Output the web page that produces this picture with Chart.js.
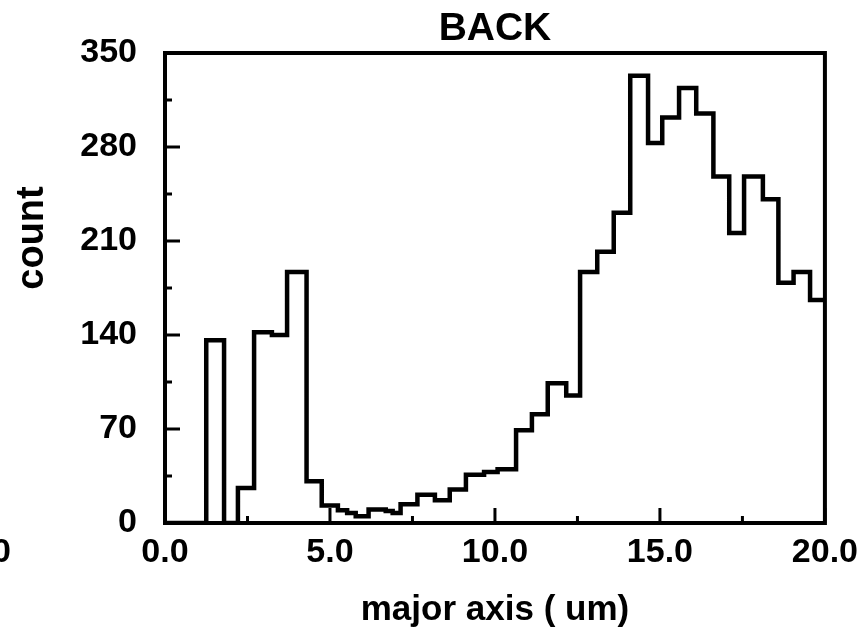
<!DOCTYPE html>
<html>
<head>
<meta charset="utf-8">
<script src="https://cdn.jsdelivr.net/npm/chart.js@4.4.1/dist/chart.umd.min.js"></script>
<style>
  html, body { margin: 0; padding: 0; background: #fff; }
  #wrap { width: 867px; height: 632px; }
</style>
</head>
<body>
<div id="wrap"><canvas id="c" width="867" height="632"></canvas></div>
<script>
// Bin start positions (um) and counts (step histogram, value held until next edge)
const binStarts = [0, 1.25, 1.79, 2.21, 2.70, 3.24, 3.70, 4.29, 4.75, 5.24, 5.52, 5.78, 6.17, 6.69, 6.90, 7.14, 7.65, 8.18, 8.63, 9.12, 9.67, 10.08, 10.64, 11.12, 11.60, 12.16, 12.58, 13.10, 13.60, 14.10, 14.64, 15.07, 15.58, 16.10, 16.62, 17.10, 17.55, 18.12, 18.59, 19.05, 19.55, 20.0];
const counts    = [0, 136, 0, 26, 142, 140, 187, 31, 13, 9.5, 7.5, 5, 10, 9, 7.5, 14, 21, 17, 25, 36, 38, 40, 69, 81, 104, 95, 187, 202, 231, 333, 283, 302, 324, 305, 258, 216, 258, 241, 179, 187, 166, 166];
const yTicks = [0, 70, 140, 210, 280, 350];
const yMinorTicks = [35, 105, 175, 245, 315];
const xTicks = [0, 5, 10, 15, 20];
const xMinorTicks = [2.5, 7.5, 12.5, 17.5];
const xTickLabels = ['0.0', '5.0', '10.0', '15.0', '20.0'];
const titleText = 'BACK';
const xTitle = 'major axis ( um)';
const yTitle = 'count';

const FONT = 'Liberation Sans, Arial, sans-serif';

const points = binStarts.map((x, i) => ({ x: x, y: counts[i] }));

const framePlugin = {
  id: 'framePlugin',
  afterDraw(chart) {
    const { ctx, chartArea: a, scales } = chart;
    ctx.save();
    ctx.strokeStyle = '#000';
    ctx.lineCap = 'butt';
    // inward ticks
    ctx.lineWidth = 3;
    const xs = scales.x, ys = scales.y;
    const drawX = (v, len) => {
      const px = xs.getPixelForValue(v);
      ctx.beginPath(); ctx.moveTo(px, a.bottom); ctx.lineTo(px, a.bottom - len); ctx.stroke();
    };
    const drawY = (v, len) => {
      const py = ys.getPixelForValue(v);
      ctx.beginPath(); ctx.moveTo(a.left, py); ctx.lineTo(a.left + len, py); ctx.stroke();
    };
    xTicks.forEach(v => drawX(v, 15));
    xMinorTicks.forEach(v => drawX(v, 7));
    yTicks.forEach(v => drawY(v, 15));
    yMinorTicks.forEach(v => drawY(v, 7));
    // frame
    ctx.lineWidth = 4;
    ctx.strokeRect(a.left, a.top, a.right - a.left, a.bottom - a.top);
    ctx.fillStyle = '#000';
    // title centred over the plot area
    ctx.font = 'bold 39px ' + FONT;
    ctx.textAlign = 'center';
    ctx.textBaseline = 'alphabetic';
    ctx.fillText(titleText, (a.left + a.right) / 2, 40);
    // y axis title
    ctx.save();
    ctx.translate(43, 238);
    ctx.rotate(-Math.PI / 2);
    ctx.font = 'bold 38px ' + FONT;
    ctx.textAlign = 'center';
    ctx.textBaseline = 'alphabetic';
    ctx.fillText(yTitle, 0, 0);
    ctx.restore();
    // clipped label fragment at far left (from neighbouring panel)
    ctx.font = 'bold 34px ' + FONT;
    ctx.textAlign = 'right';
    ctx.textBaseline = 'middle';
    ctx.fillText('20.0', 11, xs.top + 9 + 20.4);
    ctx.restore();
  }
};

new Chart(document.getElementById('c'), {
  type: 'line',
  data: {
    datasets: [{
      data: points,
      stepped: 'before',
      borderColor: '#000',
      borderWidth: 4.5,
      pointRadius: 0,
      fill: false,
      tension: 0,
      borderJoinStyle: 'miter'
    }]
  },
  options: {
    responsive: false,
    animation: false,
    devicePixelRatio: 1,
    layout: { padding: { left: 0, right: 42, top: 53, bottom: 0 } },
    plugins: {
      legend: { display: false },
      tooltip: { enabled: false },
      title: { display: false }
    },
    scales: {
      x: {
        type: 'linear',
        min: 0, max: 20,
        afterBuildTicks(scale) { scale.ticks = xTicks.map(v => ({ value: v })); },
        afterFit(scale) { scale.height = 109; },
        grid: { display: false, drawTicks: false },
        border: { display: false },
        ticks: {
          color: '#000',
          padding: 9,
          maxRotation: 0,
          autoSkip: false,
          font: { family: FONT, size: 34, weight: 'bold' },
          callback: (v) => { const i = xTicks.indexOf(v); return i >= 0 ? xTickLabels[i] : ''; }
        },
        title: {
          display: true,
          text: xTitle,
          color: '#000',
          font: { family: FONT, size: 35, weight: 'bold' },
          padding: { top: 0, bottom: 1 }
        }
      },
      y: {
        type: 'linear',
        min: 0, max: 350,
        afterBuildTicks(scale) { scale.ticks = yTicks.map(v => ({ value: v })); },
        afterFit(scale) { scale.width = 165; },
        grid: { display: false, drawTicks: false },
        border: { display: false },
        ticks: {
          color: '#000',
          padding: 28,
          autoSkip: false,
          font: { family: FONT, size: 34, weight: 'bold' },
          callback: (v) => String(v)
        },
        title: { display: false }
      }
    }
  },
  plugins: [framePlugin]
});
</script>
</body>
</html>
